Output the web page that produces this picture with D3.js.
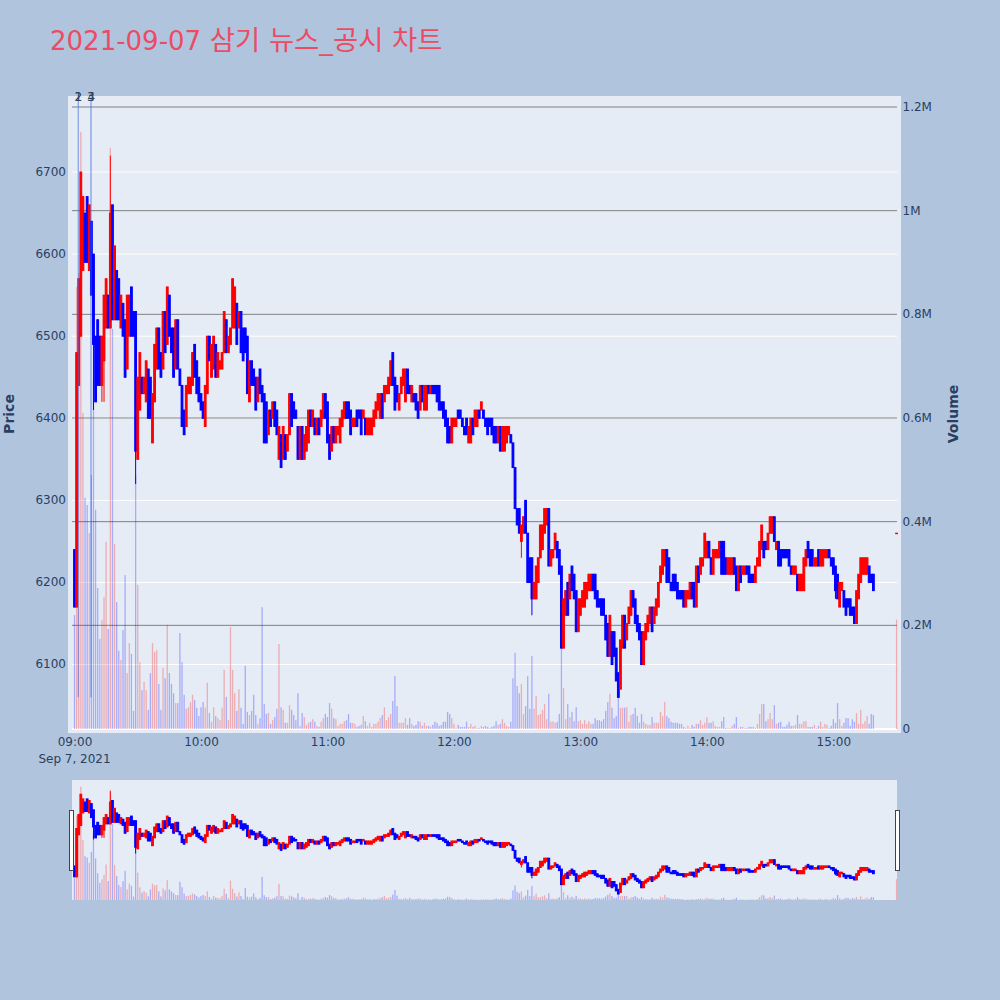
<!DOCTYPE html>
<html><head><meta charset="utf-8">
<script src="https://cdn.jsdelivr.net/npm/d3@7"></script>
<style>html,body{margin:0;padding:0;background:#B0C4DE}svg{display:block}</style>
</head><body><div id="c"></div>
<script>
const chartTitleDate = "2021-09-07";
const chartTitleName = " 삼기 뉴스_공시 차트";
const priceTicks = [6100,6200,6300,6400,6500,6600,6700];
const volumeTicks = [0,200000,400000,600000,800000,1000000,1200000];
const volumeTickLabels = ["0","0.2M","0.4M","0.6M","0.8M","1M","1.2M"];
const hourTicks = ["09:00","10:00","11:00","12:00","13:00","14:00","15:00"];
const dateLabel = "Sep 7, 2021";
const newsLabels = ["1","2","3","4"];
const newsMinutes = [1.75,1.85,7.7,7.95];
const newsLowPrice = 6060;
const lastBarMinute = 390;

const opens = [
6240,6170,6440,6500,6580,6650,6670,6580,6640,6600,
6500,6520,6500,6440,6470,6510,6550,6510,6660,6520,
6580,6570,6510,6540,6520,6460,6500,6560,6530,6530,
6350,6410,6450,6430,6420,6460,6450,6370,6420,6460,
6510,6480,6460,6530,6490,6550,6510,6510,6460,6520,
6460,6440,6410,6390,6430,6430,6440,6490,6470,6450,
6430,6420,6390,6430,6500,6450,6460,6490,6450,6460,
6460,6480,6520,6480,6490,6510,6510,6540,6510,6530,
6510,6510,6500,6420,6470,6460,6450,6420,6460,6440,
6430,6420,6380,6410,6400,6420,6410,6350,6380,6350,
6380,6360,6380,6430,6420,6410,
6390,6350,6390,6350,6360,6370,6410,6390,6400,6380,
6400,6390,6400,6430,6420,6380,6360,6390,6370,6380,
6370,6390,6400,6420,6420,6410,6390,6390,6410,6410,
6410,6400,6400,6380,6380,6380,6390,6400,6410,6400,
6430,6420,6430,6430,6440,6480,6450,6440,6410,6430,
6440,6420,6460,6440,6420,6430,6430,6420,6410,6440,
6410,6410,6440,6430,6440,6440,6440,6440,6420,6420,
6410,6400,6390,6370,6390,6390,6410,6410,6400,6390,
6400,6370,6370,6400,6390,6390,6410,6410,6410,6400,
6400,6400,6400,6390,6390,6370,6390,6360,6360,6370,
6380,6380,6370,
6340,6290,6290,6250,6260,6300,6260,6230,6230,6180,
6180,6200,6230,6240,6260,6270,6290,6220,6230,6240,
6250,6240,6220,6120,6160,6200,6180,6220,6210,6190,
6140,6160,6170,6170,6180,6190,6190,6210,6210,6190,
6180,6180,6180,6160,6150,6110,6140,6140,6120,6090,
6070,6120,6160,6130,6150,6160,6190,6180,6160,6150,
6140,6100,6130,6140,6150,6170,6150,6160,6170,6200,
6210,6220,6240,6230,6200,6210,6210,6200,6190,6190,
6190,6170,6180,
6180,6200,6200,6170,6220,6210,6220,6230,6230,6250,
6230,6210,6230,6230,6230,6250,6250,6230,6210,6210,
6210,6230,6220,6190,6220,6210,6210,6220,6220,6210,
6210,6200,6220,6220,6240,6250,6250,6240,6260,6260,
6280,6240,6250,6240,6240,6240,6240,6240,6220,6210,
6210,6210,6190,6190,6190,6220,6250,6240,6240,6220,
6220,6240,6220,6220,6230,6230,6240,6230,6230,6220,
6210,6170,6190,6190,6180,6180,6180,6170,6170,6150,
6180,6200,6210,6210,6210,6220,6210,6210,
6260];
const closes = [
6170,6480,6570,6700,6670,6590,6590,6660,6550,6490,
6420,6440,6440,6500,6550,6570,6510,6650,6520,6610,
6520,6520,6550,6500,6450,6550,6550,6500,6500,6360,
6450,6480,6430,6450,6470,6400,6400,6430,6490,6510,
6460,6450,6530,6480,6560,6500,6480,6450,6520,6460,
6440,6390,6380,6440,6450,6450,6480,6450,6430,6420,
6410,6400,6440,6500,6470,6490,6500,6450,6480,6470,
6480,6530,6480,6500,6510,6570,6560,6490,6530,6480,
6470,6480,6430,6470,6440,6440,6410,6450,6430,6420,
6370,6370,6410,6390,6420,6390,6380,6390,6340,6390,
6350,6380,6430,6390,6400,6400,
6350,6390,6350,6380,6390,6410,6390,6410,6380,6400,
6380,6410,6430,6400,6370,6350,6390,6370,6390,6390,
6400,6410,6420,6400,6400,6380,6400,6400,6390,6400,
6380,6410,6380,6400,6400,6400,6410,6420,6430,6430,
6400,6440,6440,6450,6470,6440,6410,6420,6430,6450,
6460,6460,6430,6430,6440,6420,6410,6400,6440,6420,
6440,6440,6430,6440,6430,6430,6420,6410,6410,6400,
6390,6370,6370,6400,6400,6400,6400,6400,6390,6380,
6380,6390,6400,6380,6410,6410,6400,6420,6400,6390,
6380,6390,6380,6370,6370,6390,6360,6390,6390,6390,
6390,6370,6340,
6290,6270,6260,6270,6280,6260,6200,6200,6180,6200,
6220,6230,6270,6270,6290,6290,6220,6240,6240,6260,
6230,6210,6120,6180,6190,6160,6210,6190,6180,6140,
6180,6180,6190,6200,6200,6210,6210,6190,6180,6170,
6170,6160,6160,6130,6110,6160,6100,6110,6080,6060,
6130,6160,6120,6150,6170,6190,6170,6150,6140,6130,
6100,6140,6150,6160,6170,6140,6170,6180,6200,6220,
6240,6240,6200,6200,6190,6190,6190,6180,6180,6180,
6170,6190,6190,
6200,6180,6170,6220,6200,6230,6230,6260,6250,6230,
6210,6240,6240,6240,6250,6210,6210,6210,6230,6230,
6230,6210,6190,6220,6200,6220,6220,6210,6200,6200,
6200,6220,6230,6250,6270,6230,6240,6260,6280,6280,
6250,6250,6220,6220,6230,6230,6230,6220,6210,6220,
6220,6190,6210,6210,6230,6240,6230,6220,6220,6230,
6230,6220,6240,6240,6240,6240,6230,6220,6210,6190,
6180,6200,6200,6170,6160,6170,6160,6160,6150,6190,
6210,6230,6230,6230,6230,6200,6200,6190,
6260];
// thin wicks that reach beyond the body: [bar number, price]
const highWicks = [[17,6720],[214,6300]];
const lowWicks = [[9,6410],[13,6420],[14,6420],[29,6320],[212,6230],[217,6160],[361,6180]];

// traded shares per minute, in thousands
const volumesK = [
220,853,880,1152,610,446,432,378,490,675,
423,272,174,210,255,361,193,1121,772,357,
245,151,133,191,297,108,166,145,35,490,
278,129,75,91,75,37,108,166,149,152,
87,37,118,98,201,108,87,69,50,50,
185,129,66,39,42,52,66,56,41,25,
42,52,41,89,31,14,42,25,21,17,
41,114,62,17,197,114,69,35,77,41,
10,122,33,27,35,66,27,10,21,235,
48,29,31,10,17,23,39,164,42,37,
12,12,46,37,27,17,69,6,31,23,
8,12,14,19,14,6,4,14,21,29,
23,50,39,21,19,6,10,10,15,17,
29,12,12,10,4,6,8,25,15,6,
12,4,10,10,14,21,27,42,17,23,
29,54,102,44,12,12,12,21,8,21,
10,6,8,15,14,6,12,6,6,4,
8,14,12,6,8,14,14,33,29,21,
10,2,8,4,4,4,14,4,10,4,
6,2,2,6,4,6,4,2,4,6,
15,8,10,19,12,6,4,14,98,147,
83,69,87,29,44,102,39,141,39,64,
27,29,37,48,19,68,14,15,12,14,
29,156,79,19,48,23,33,15,42,15,
17,10,17,10,15,10,10,21,17,17,
15,19,35,52,68,41,21,25,62,41,
41,41,42,14,27,29,41,25,12,29,
14,10,8,8,23,12,12,12,33,25,
52,25,21,14,12,
12,12,10,10,4,2,6,2,8,4,
10,10,17,8,12,23,12,12,15,6,
4,4,15,23,2,2,2,6,10,23,
2,4,4,2,2,4,4,4,2,10,
29,48,48,15,19,31,19,46,10,12,
14,4,4,8,14,6,6,8,27,10,
10,15,15,4,4,4,8,2,6,14,
4,10,8,2,6,19,12,50,19,6,
12,21,21,6,19,14,31,10,37,10,
15,25,10,29,27];
const lastBarVolumeK = 211;

const parseClock = d3.timeParse("%Y-%m-%d %H:%M");
const sessionStart = parseClock("2021-09-07 09:00");
const W=1000,H=1000;
const L=72,R=897,T=97,B=732;
const barCount = opens.length;
const minuteOf = i => i===barCount-1 ? lastBarMinute : i;
const at = m => sessionStart.getTime()+m*60000;

const x = d3.scaleTime().domain([new Date(at(-1.19)),new Date(at(390.2))]).range([L,R]);
const y = d3.scaleLinear().domain([6017.8,6791.4]).range([B,T]);
const yV = d3.scaleLinear().domain([-5790,1219300]).range([B,T]);
const sY = d3.scaleLinear().domain([97,729]).range([780,900]);

const highs = opens.map((o,i)=>Math.max(o,closes[i]));
const lows  = opens.map((o,i)=>Math.min(o,closes[i]));
highWicks.forEach(([i,p])=>highs[i]=p);
lowWicks.forEach(([i,p])=>lows[i]=p);
const bars = opens.map((o,i)=>({m:minuteOf(i),o,c:closes[i],h:highs[i],l:lows[i]}));
const vols = volumesK.map((v,i)=>({m:i,v:v*1000,up:i<barCount-1?closes[i]>=opens[i]:true}));
vols.push({m:lastBarMinute,v:lastBarVolumeK*1000,up:true});

const UP="#FF0000",DOWN="#0000FF";
const FONT="'DejaVu Sans','Noto Sans CJK KR',sans-serif";
const svg=d3.select("#c").append("svg").attr("width",W).attr("height",H).style("font-family",FONT);
svg.append("rect").attr("width",W).attr("height",H).attr("fill","#B0C4DE");
svg.append("rect").attr("x",68).attr("y",96).attr("width",833).attr("height",637).attr("fill","#E5ECF6");
svg.append("rect").attr("x",L).attr("y",780).attr("width",R-L).attr("height",120).attr("fill","#E5ECF6");
const defs=svg.append("defs");
defs.append("clipPath").attr("id","slider").append("rect").attr("x",L).attr("y",780).attr("width",R-L).attr("height",120);

const titleText=svg.append("text").attr("x",50).attr("y",49.5).attr("fill","#EB4C64");
titleText.append("tspan").attr("font-size",26).text(chartTitleDate);
titleText.append("tspan").attr("font-size",27.4).text(chartTitleName);

// grids
const grid=svg.append("g");
grid.selectAll(".gp").data(priceTicks).join("line").attr("x1",L).attr("x2",R)
 .attr("y1",d=>y(d)).attr("y2",d=>y(d)).attr("stroke","#fff").attr("stroke-width",1);
grid.selectAll(".gv").data(volumeTicks.slice(1)).join("line").attr("x1",L).attr("x2",R)
 .attr("y1",d=>yV(d)).attr("y2",d=>yV(d)).attr("stroke","#808080").attr("stroke-width",1);
grid.append("line").attr("x1",L).attr("x2",R).attr("y1",yV(0)).attr("y2",yV(0)).attr("stroke","#fff").attr("stroke-width",2);

function drawCandles(g,py){
  const w=1.8;
  const t=d=>new Date(at(d.m));
  g.selectAll("line.w").data(bars).join("line").attr("class","w")
   .attr("x1",d=>x(t(d))).attr("x2",d=>x(t(d))).attr("y1",d=>py(d.h)).attr("y2",d=>py(d.l))
   .attr("stroke",d=>d.c>=d.o?UP:DOWN).attr("stroke-width",1);
  g.selectAll("rect.b").data(bars).join("rect").attr("class","b")
   .attr("x",d=>x(t(d))-w/2).attr("width",w)
   .attr("y",d=>Math.min(py(d.o),py(d.c))).attr("height",d=>Math.max(.5,Math.abs(py(d.o)-py(d.c))))
   .attr("fill",d=>d.c>=d.o?UP:DOWN).attr("stroke",d=>d.c>=d.o?UP:DOWN).attr("stroke-width",1);
}
function drawVolumes(g,py){
  const w=1.3;
  g.selectAll("rect.v").data(vols).join("rect").attr("class","v")
   .attr("x",d=>x(new Date(at(d.m)))-w/2).attr("width",w)
   .attr("y",d=>py(d.v)).attr("height",d=>py(0)-py(d.v))
   .attr("fill",d=>d.up?UP:DOWN).attr("fill-opacity",.27);
}
const main=svg.append("g");
drawCandles(main,y);
drawVolumes(main,yV);

// news markers
const news=svg.append("g");
news.selectAll("line").data(newsMinutes).join("line")
 .attr("x1",d=>x(new Date(at(d)))).attr("x2",d=>x(new Date(at(d))))
 .attr("y1",T).attr("y2",y(newsLowPrice)).attr("stroke","#4169E1").attr("stroke-opacity",.35).attr("stroke-width",1.2);
news.selectAll("text").data(newsLabels).join("text")
 .attr("x",(d,i)=>x(new Date(at(newsMinutes[i])))).attr("y",101).attr("text-anchor","middle")
 .attr("font-size",12).attr("fill","#2a3f5f").text(d=>d);

// slider
const sl=svg.append("g").attr("clip-path","url(#slider)");
drawCandles(sl,p=>sY(y(p)));
drawVolumes(sl,v=>sY(yV(v)));
[[69.5,4],[895.5,4]].forEach(([hx,hw])=>{
 svg.append("rect").attr("x",hx).attr("y",810.5).attr("width",hw).attr("height",60)
  .attr("fill","#fff").attr("stroke","#444").attr("stroke-width",1);
});

// axes
const tickCol="#2a3f5f";
const ax=d3.axisLeft(y).tickValues(priceTicks).tickSize(0).tickPadding(0).tickFormat(d3.format("d"));
const gL=svg.append("g").attr("transform","translate(66,-0.5)").call(ax);
const ar=d3.axisRight(yV).tickValues(volumeTicks).tickSize(0).tickPadding(0).tickFormat((d,i)=>volumeTickLabels[i]);
const gR=svg.append("g").attr("transform","translate(902.5,-0.5)").call(ar);
const xTicks=hourTicks.map(h=>parseClock("2021-09-07 "+h));
const axb=d3.axisBottom(x).tickValues(xTicks).tickSize(0).tickPadding(0).tickFormat(d3.timeFormat("%H:%M"));
const gB=svg.append("g").attr("transform","translate(0,737)").call(axb);
[gL,gR,gB].forEach(g=>{g.select(".domain").remove();g.selectAll("text").attr("fill",tickCol).attr("font-size",12).attr("font-family",FONT);});
svg.append("text").attr("x",x(sessionStart)).attr("y",762.5).attr("text-anchor","middle").attr("font-size",12).attr("fill",tickCol).text(dateLabel);
svg.append("text").attr("transform","translate(13.5,414) rotate(-90)").attr("text-anchor","middle").attr("font-size",14).attr("font-weight",700).attr("fill",tickCol).text("Price");
svg.append("text").attr("transform","translate(958,414) rotate(-90)").attr("text-anchor","middle").attr("font-size",14).attr("font-weight",700).attr("fill",tickCol).text("Volume");
</script></body></html>
